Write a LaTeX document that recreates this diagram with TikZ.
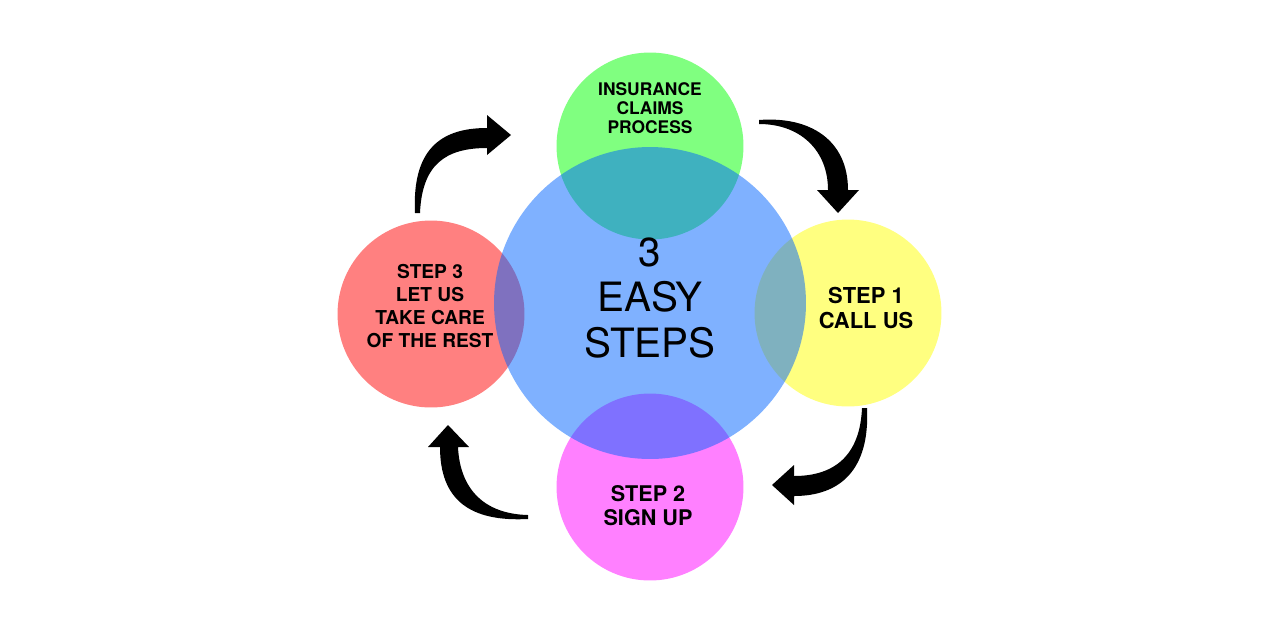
\documentclass[tikz,border=0pt]{standalone}
\usepackage{fontspec}
\setmainfont{TeX Gyre Heros}

\definecolor{claimgreen}{RGB}{128,255,128}
\definecolor{callyellow}{RGB}{255,255,128}
\definecolor{signmagenta}{RGB}{255,128,255}
\definecolor{restred}{RGB}{255,128,128}
\definecolor{hubblue}{RGB}{0,100,255}

\begin{document}
\begin{tikzpicture}[x=0.02cm, y=-0.02cm,
		bubble/.style={circle, inner sep=0pt, minimum size=3.74cm},
		steptext/.style 2 args={align=center, inner sep=0pt,
			font=\bfseries\fontsize{#1}{#2}\selectfont},
		bigarrow/.style={fill=black}]
		\useasboundingbox (0, 0) rectangle (1280, 640);

		% the four steps
		\node[bubble, fill=claimgreen] (claims) at (650, 146) {};
		\node[bubble, fill=callyellow] (call) at (848, 313) {};
		\node[bubble, fill=signmagenta] (sign) at (650, 487) {};
		\node[bubble, fill=restred] (rest) at (431, 314) {};

		% centre, see-through
		\node[circle, inner sep=0pt, minimum size=6.24cm,
			fill=hubblue, fill opacity=0.5] (hub) at (650, 303) {};

		\node[align=center, inner sep=0pt, font=\fontsize{23}{26}\selectfont]
			(hubtext) at (650, 298) {3\\EASY\\STEPS};
		\node[steptext={9.9}{10.8}] (claimstext) at (650, 108)
			{INSURANCE\\CLAIMS\\PROCESS};
		\node[steptext={12.5}{14.2}] (calltext) at (866, 308) {STEP 1\\CALL US};
		\node[steptext={12.3}{13.6}] (signtext) at (648, 506) {STEP 2\\SIGN UP};
		\node[steptext={10.9}{13}] (resttext) at (430, 306)
			{STEP 3\\LET US\\TAKE CARE\\OF THE REST};

		% curved arrows
		\fill[bigarrow] (759, 120) .. controls (810, 116) and (848, 140) .. (848, 190)
			-- (859, 190) -- (838, 213) -- (817, 190) -- (828, 190)
			.. controls (828, 150) and (800, 124) .. (759, 124) -- cycle;
		\fill[bigarrow] (867, 408) .. controls (870, 470) and (840, 496) .. (794, 496)
			-- (794, 505) -- (772, 485) -- (794, 465) -- (794, 476)
			.. controls (835, 476) and (860, 455) .. (862, 408) -- cycle;
		\fill[bigarrow] (528, 519) .. controls (470, 522) and (440, 500) .. (440, 447)
			-- (428, 447) -- (448, 425) -- (469, 447) -- (458, 447)
			.. controls (460, 490) and (485, 514) .. (528, 515) -- cycle;
		\fill[bigarrow] (415, 213) .. controls (412, 150) and (440, 128) .. (487, 128)
			-- (487, 115) -- (511, 135) -- (487, 155) -- (487, 148)
			.. controls (445, 148) and (422, 165) .. (420, 213) -- cycle;
	\end{tikzpicture}
\end{document}
